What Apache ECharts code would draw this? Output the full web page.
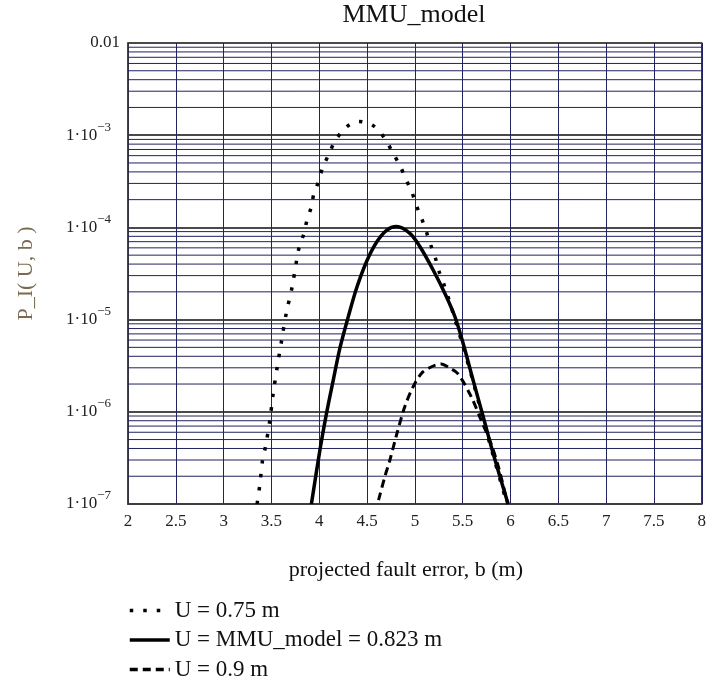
<!DOCTYPE html>
<html>
<head>
<meta charset="utf-8">
<script src="https://cdn.jsdelivr.net/npm/echarts@6/dist/echarts.min.js"></script>
<style>
html, body { margin: 0; padding: 0; background: #fff; }
#chart { width: 709px; height: 684px; }
</style>
</head>
<body>
<div id="chart"></div>
<script>
// values
const dotB = [3.35, 3.377, 3.408, 3.439, 3.484, 3.519, 3.561, 3.607, 3.655, 3.717, 3.763, 3.79, 3.84, 3.871, 3.916, 3.944, 3.996, 4.038, 4.104, 4.164, 4.285, 4.414, 4.564, 4.686, 4.767, 4.843, 4.906, 4.969, 5.017, 5.073, 5.122, 5.167, 5.216, 5.254, 5.306, 5.358, 5.41, 5.495, 5.6, 5.705, 5.81, 5.965];
const dotP = [1.0e-7, 1.57e-7, 3.03e-7, 4.23e-7, 8.2e-7, 1.6e-6, 3.08e-6, 6.0e-6, 1.17e-5, 2.28e-5, 4.36e-5, 6.1e-5, 8.6e-5, 1.19e-4, 1.66e-4, 2.32e-4, 3.21e-4, 4.52e-4, 6.3e-4, 8.65e-4, 1.23e-3, 1.41e-3, 1.27e-3, 9.2e-4, 6.5e-4, 4.7e-4, 3.35e-4, 2.4e-4, 1.72e-4, 1.23e-4, 8.85e-5, 6.4e-5, 4.6e-5, 3.3e-5, 2.37e-5, 1.63e-5, 1.08e-5, 5.5e-6, 2.3e-6, 9.0e-7, 3.6e-7, 1.0e-7];

const solidB = [3.918, 4.007, 4.076, 4.146, 4.216, 4.303, 4.39, 4.495, 4.599, 4.704, 4.808, 4.948, 5.052, 5.191, 5.313, 5.418, 5.505, 5.609, 5.714, 5.818, 5.975];
const solidP = [1.0e-7, 3.85e-7, 9.6e-7, 2.19e-6, 4.9e-6, 1.07e-5, 2.19e-5, 4.27e-5, 6.9e-5, 9.3e-5, 1.02e-4, 8.6e-5, 6.2e-5, 3.45e-5, 1.93e-5, 1.08e-5, 5.5e-6, 2.2e-6, 8.9e-7, 3.55e-7, 1.0e-7];

const dashB = [4.62, 4.686, 4.739, 4.808, 4.895, 4.982, 5.076, 5.18, 5.275, 5.36, 5.449, 5.589, 5.693, 5.797, 5.88, 5.97];
const dashP = [1.1e-7, 1.98e-7, 3.0e-7, 5.6e-7, 1.14e-6, 1.87e-6, 2.66e-6, 3.1e-6, 3.3e-6, 3.0e-6, 2.6e-6, 1.46e-6, 8.1e-7, 4.5e-7, 2.4e-7, 1.0e-7];

const seriesNames = ['U = 0.75 m', 'U = MMU_model = 0.823 m', 'U = 0.9 m'];

// y tick labels, one per decade
const yTickValues = [1e-7, 1e-6, 1e-5, 1e-4, 1e-3, 1e-2];
const yTickLabels = ['{b|1·10}{e|\u22127}', '{b|1·10}{e|\u22126}', '{b|1·10}{e|\u22125}', '{b|1·10}{e|\u22124}', '{b|1·10}{e|\u22123}', '0.01'];

const gridNavy = '#22225e';
const serif = 'Liberation Serif';
const xMin = 2;
const xMax = 8;

function pairs(xs, ys) {
    return xs.map((x, i) => [x, ys[i]]);
}

// minor log grid lines (2..9 in each decade), broken into separate segments
const minorGrid = [];
for (let d = 0; d < yTickValues.length - 1; d++) {
    for (let k = 2; k <= 9; k++) {
        const v = k * yTickValues[d];
        minorGrid.push([xMin, v], [xMax, v], [xMax, '-']);
    }
}

const chart = echarts.init(document.getElementById('chart'));

const option = {
    animation: false,
    backgroundColor: '#fff',
    title: {
        text: 'MMU_model',
        left: 414,
        top: 2,
        padding: 0,
        textAlign: 'center',
        textStyle: { fontFamily: serif, fontSize: 26, fontWeight: 'normal', color: '#111' },
    },
    grid: {
        left: 128,
        right: 7,
        top: 43,
        bottom: 180,
        show: true,
        borderColor: '#3a3a3a',
        borderWidth: 1.5,
    },
    legend: {
        data: seriesNames,
        orient: 'vertical',
        left: 123,
        top: 594,
        height: 95,
        itemWidth: 40,
        itemHeight: 14,
        itemGap: 6.5,
        itemStyle: { opacity: 0 },
        lineStyle: { width: 3.5 },
        textStyle: { fontFamily: serif, fontSize: 23, color: '#111', lineHeight: 22 },
    },
    xAxis: {
        type: 'value',
        min: xMin,
        max: xMax,
        interval: 0.5,
        name: 'projected fault error, b (m)',
        nameLocation: 'middle',
        nameGap: 55,
        nameTextStyle: { fontFamily: serif, fontSize: 22, color: '#111', padding: [0, 18, 0, 0] },
        axisLine: { show: true, lineStyle: { color: '#3a3a3a', width: 1.5 } },
        axisTick: { show: false },
        axisLabel: { fontFamily: serif, fontSize: 17, color: '#222', margin: 9 },
        splitLine: { show: true, lineStyle: { color: gridNavy, width: 1 } },
    },
    yAxis: {
        type: 'log',
        logBase: 10,
        min: 1e-7,
        max: 1e-2,
        splitNumber: 5,
        name: 'P_I( U, b )',
        nameLocation: 'middle',
        nameGap: 91,
        nameTextStyle: { fontFamily: serif, fontSize: 22, color: '#7a6b50' },
        axisLine: { show: true, lineStyle: { color: '#3a3a3a', width: 1.5 } },
        axisTick: { show: false },
        axisLabel: {
            margin: 8,
            fontFamily: serif,
            fontSize: 17,
            color: '#222',
            formatter: function (v) {
                const i = yTickValues.findIndex((t) => Math.abs(Math.log10(t) - Math.log10(v)) < 1e-6);
                return i >= 0 ? yTickLabels[i] : '';
            },
            rich: {
                b: { fontFamily: serif, fontSize: 17, color: '#222', lineHeight: 29 },
                e: { fontFamily: serif, fontSize: 13, color: '#222', verticalAlign: 'top', lineHeight: 13, padding: [0, 9, 0, 0] },
            },
        },
        splitLine: { show: true, lineStyle: { color: '#4a4a4a', width: 2 } },
    },
    series: [
        {
            name: 'minorGrid',
            type: 'line',
            data: minorGrid,
            z: 1,
            silent: true,
            symbol: 'none',
            connectNulls: false,
            lineStyle: { color: gridNavy, width: 1 },
        },
        {
            name: seriesNames[0],
            type: 'line',
            data: pairs(dotB, dotP),
            symbol: 'none',
            smooth: 0.3,
            z: 3,
            lineStyle: { color: '#000', width: 3.5, type: [3.5, 10], cap: 'butt' },
            itemStyle: { color: '#000' },
        },
        {
            name: seriesNames[1],
            type: 'line',
            data: pairs(solidB, solidP),
            symbol: 'none',
            smooth: 0.3,
            z: 4,
            lineStyle: { color: '#000', width: 3.5 },
            itemStyle: { color: '#000' },
        },
        {
            name: seriesNames[2],
            type: 'line',
            data: pairs(dashB, dashP),
            symbol: 'none',
            smooth: 0.3,
            z: 3,
            lineStyle: { color: '#000', width: 3, type: [8, 5], cap: 'butt' },
            itemStyle: { color: '#000' },
        },
    ],
};

chart.setOption(option);
</script>
</body>
</html>
